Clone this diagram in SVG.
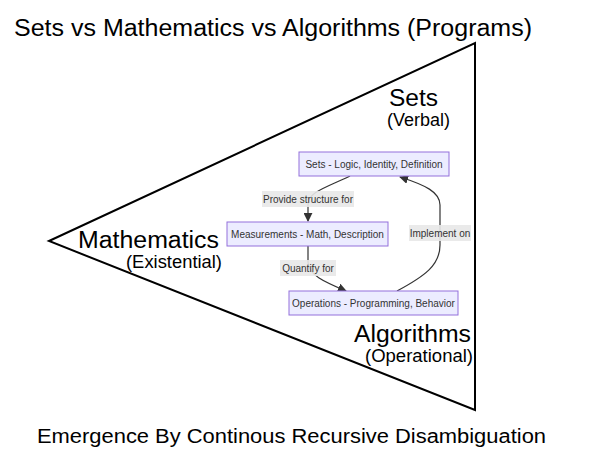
<svg xmlns="http://www.w3.org/2000/svg" width="593" height="451" viewBox="0 0 593 451">
<style>
.big{font-family:"Liberation Sans",Arial,sans-serif;fill:#000}
.node rect{fill:#ECECFF;stroke:#9370DB;stroke-width:1}
.node text,.lbl text{font-family:"Liberation Sans",Arial,sans-serif;font-size:10px;fill:#333;text-anchor:middle}
.lbl rect{fill:#e8e8e8;opacity:0.9}
.edge{fill:none;stroke:#333;stroke-width:1.2}
</style>
<defs>
<marker id="arr" viewBox="0 0 10 10" refX="9" refY="5" markerWidth="9" markerHeight="9" orient="auto" markerUnits="userSpaceOnUse">
<path d="M0,0 L10,5 L0,10 z" fill="#333"/>
</marker>
</defs>
<rect width="593" height="451" fill="#fff"/>
<text class="big" x="14" y="36" font-size="23" textLength="518" lengthAdjust="spacingAndGlyphs">Sets vs Mathematics vs Algorithms (Programs)</text>
<polygon points="49,241 475,43 475,410" fill="none" stroke="#000" stroke-width="2"/>
<text class="big" x="389" y="106" font-size="24" textLength="49" lengthAdjust="spacingAndGlyphs">Sets</text>
<text class="big" x="387" y="126" font-size="17.5" textLength="63" lengthAdjust="spacingAndGlyphs">(Verbal)</text>
<text class="big" x="78" y="248" font-size="23.5" textLength="141" lengthAdjust="spacingAndGlyphs">Mathematics</text>
<text class="big" x="126" y="268" font-size="17.5" textLength="96" lengthAdjust="spacingAndGlyphs">(Existential)</text>
<text class="big" x="354" y="342" font-size="23.5" textLength="117" lengthAdjust="spacingAndGlyphs">Algorithms</text>
<text class="big" x="365" y="362" font-size="17.5" textLength="108" lengthAdjust="spacingAndGlyphs">(Operational)</text>
<text class="big" x="37" y="443" font-size="20" textLength="509" lengthAdjust="spacingAndGlyphs">Emergence By Continous Recursive Disambiguation</text>
<g id="connectors">
<path class="edge" d="M350,176 C325,188 308,192 308,205 L308,221" marker-end="url(#arr)"/>
<path class="edge" d="M308,246 L308,262 C308,275 325,282 346,291" marker-end="url(#arr)"/>
<path class="edge" d="M397,291 C425,276 440,265 440,245 L440,205 C440,192 425,185 400,177" marker-end="url(#arr)"/>
</g>
<g id="label-provide" class="lbl"><rect x="262" y="191" width="92" height="16"/><text x="308" y="203">Provide structure for</text></g>
<g id="label-quantify" class="lbl"><rect x="280" y="260" width="56" height="16"/><text x="308" y="272">Quantify for</text></g>
<g id="label-implement" class="lbl"><rect x="409" y="225" width="62" height="16"/><text x="440" y="237">Implement on</text></g>
<g id="sets" class="node"><rect x="299" y="152" width="150" height="24"/><text x="374" y="167.5">Sets - Logic, Identity, Definition</text></g>
<g id="measurements" class="node"><rect x="227" y="222" width="161" height="24"/><text x="307.5" y="237.5">Measurements - Math, Description</text></g>
<g id="operations" class="node"><rect x="289" y="291" width="169" height="24"/><text x="373.5" y="306.5">Operations - Programming, Behavior</text></g>
</svg>
